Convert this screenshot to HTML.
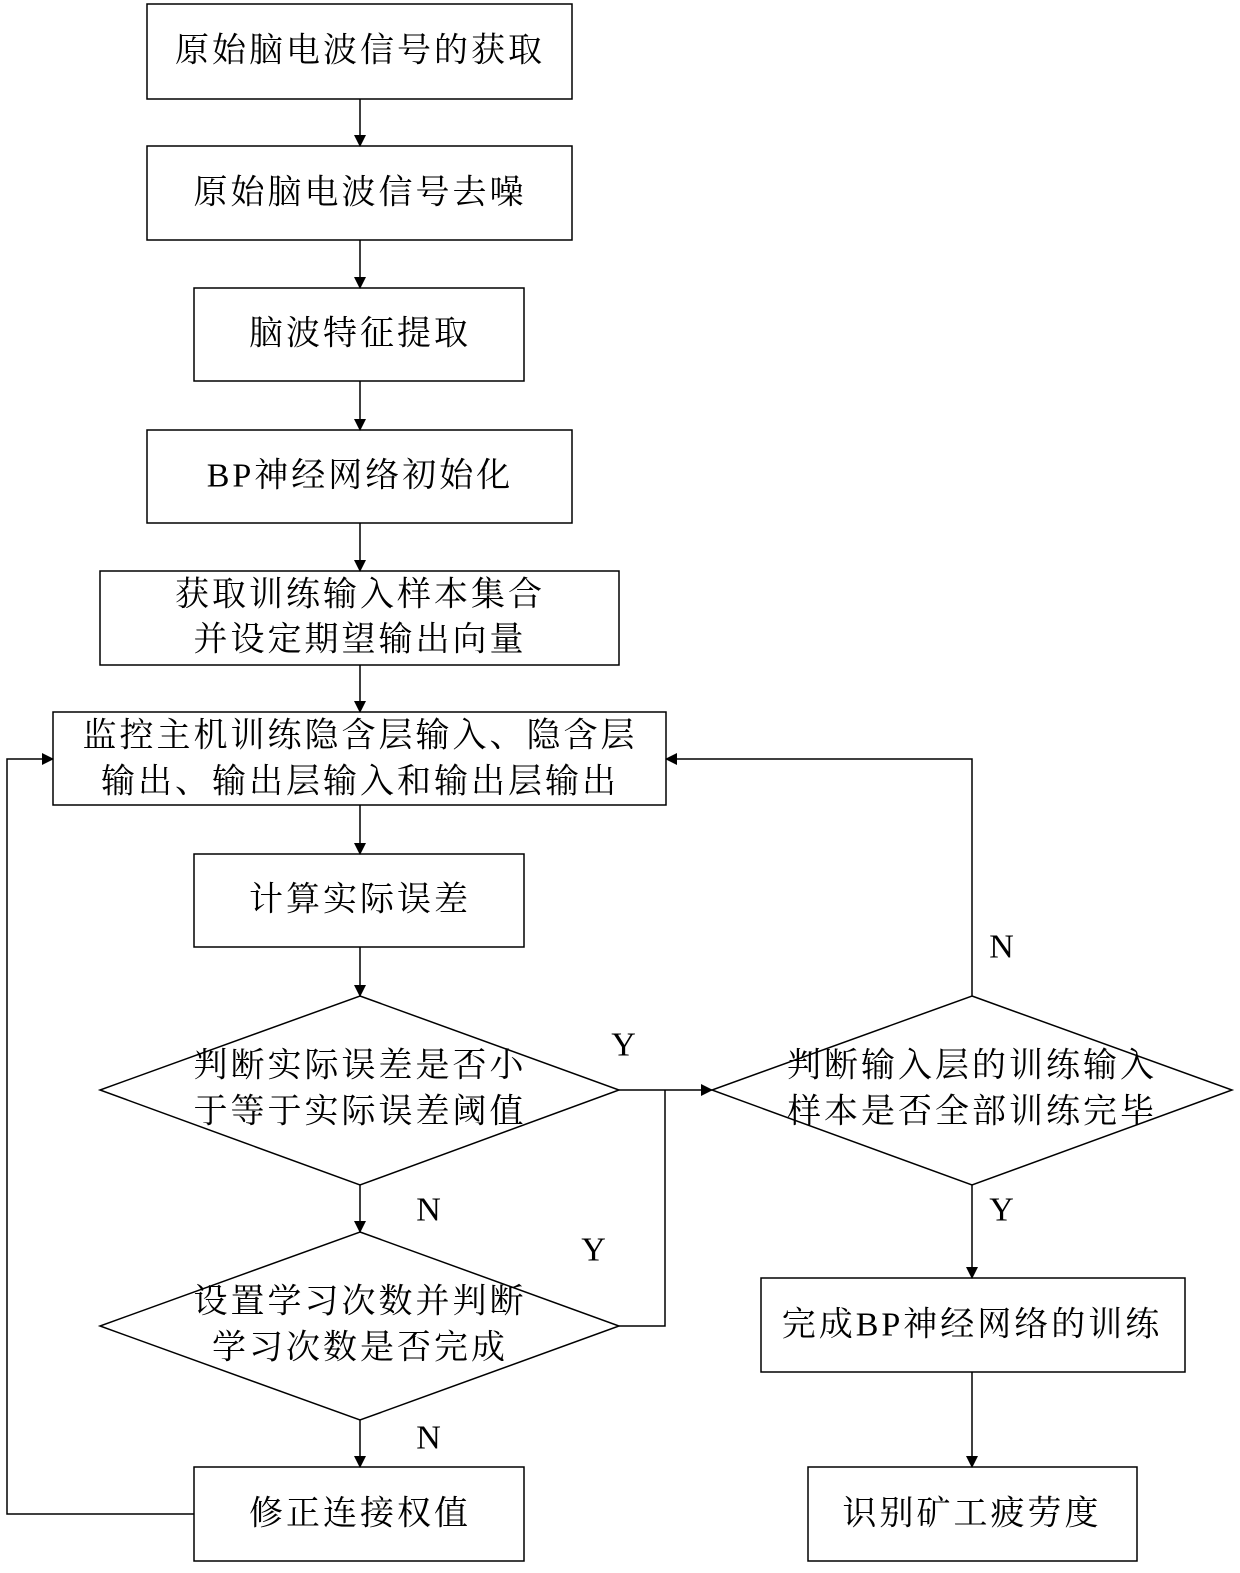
<!DOCTYPE html>
<html><head><meta charset="utf-8"><style>
html,body{margin:0;padding:0;background:#fff;}
svg{display:block;}
text{font-family:"Liberation Serif","Noto Serif CJK SC",serif;font-size:34px;fill:#000;text-anchor:middle;dominant-baseline:central;letter-spacing:3px;}
</style></head><body>
<svg width="1240" height="1573" viewBox="0 0 1240 1573" xmlns="http://www.w3.org/2000/svg">
<defs><marker id="a" markerWidth="12" markerHeight="12" refX="11" refY="6" orient="auto" markerUnits="userSpaceOnUse"><path d="M0,0 L12,6 L0,12 Z" fill="#000"/></marker></defs>
<g fill="none" stroke="#000" stroke-width="1.5">
<rect x="147" y="4" width="425" height="95"/>
<rect x="147" y="146" width="425" height="94"/>
<rect x="194" y="288" width="330" height="93"/>
<rect x="147" y="430" width="425" height="93"/>
<rect x="100" y="571" width="519" height="94"/>
<rect x="53" y="712" width="613" height="93"/>
<rect x="194" y="854" width="330" height="93"/>
<polygon points="360,996 619,1090 360,1185 100,1090"/>
<polygon points="360,1232 619,1326 360,1420 100,1326"/>
<rect x="194" y="1467" width="330" height="94"/>
<polygon points="972,996 1232,1090 972,1185 712,1090"/>
<rect x="761" y="1278" width="424" height="94"/>
<rect x="808" y="1467" width="329" height="94"/>
</g>
<g fill="none" stroke="#000" stroke-width="1.5" marker-end="url(#a)">
<line x1="360" y1="99" x2="360" y2="146"/>
<line x1="360" y1="240" x2="360" y2="288"/>
<line x1="360" y1="381" x2="360" y2="430"/>
<line x1="360" y1="523" x2="360" y2="571"/>
<line x1="360" y1="665" x2="360" y2="712"/>
<line x1="360" y1="805" x2="360" y2="854"/>
<line x1="360" y1="947" x2="360" y2="996"/>
<line x1="360" y1="1185" x2="360" y2="1232"/>
<line x1="360" y1="1420" x2="360" y2="1467"/>
<line x1="619" y1="1090" x2="712" y2="1090"/>
<polyline points="194,1514 7,1514 7,759 53,759"/>
<polyline points="972,996 972,759 666,759"/>
<line x1="972" y1="1185" x2="972" y2="1278"/>
<line x1="972" y1="1372" x2="972" y2="1467"/>
</g>
<polyline points="619,1326 665,1326 665,1090" fill="none" stroke="#000" stroke-width="1.5"/>
<text x="360" y="51">原始脑电波信号的获取</text>
<text x="360" y="193">原始脑电波信号去噪</text>
<text x="360" y="334">脑波特征提取</text>
<text x="360" y="476">BP神经网络初始化</text>
<text x="360" y="595">获取训练输入样本集合</text>
<text x="360" y="640">并设定期望输出向量</text>
<text x="360" y="736">监控主机训练隐含层输入、隐含层</text>
<text x="360" y="782">输出、输出层输入和输出层输出</text>
<text x="360" y="900">计算实际误差</text>
<text x="360" y="1066">判断实际误差是否小</text>
<text x="360" y="1112">于等于实际误差阈值</text>
<text x="360" y="1302">设置学习次数并判断</text>
<text x="360" y="1348">学习次数是否完成</text>
<text x="360" y="1514">修正连接权值</text>
<text x="972" y="1066">判断输入层的训练输入</text>
<text x="972" y="1112">样本是否全部训练完毕</text>
<text x="972" y="1325">完成BP神经网络的训练</text>
<text x="972" y="1514">识别矿工疲劳度</text>
<text x="625" y="1045">Y</text>
<text x="430" y="1210">N</text>
<text x="595" y="1250">Y</text>
<text x="430" y="1438">N</text>
<text x="1003" y="947">N</text>
<text x="1003" y="1210">Y</text>
</svg>
</body></html>
